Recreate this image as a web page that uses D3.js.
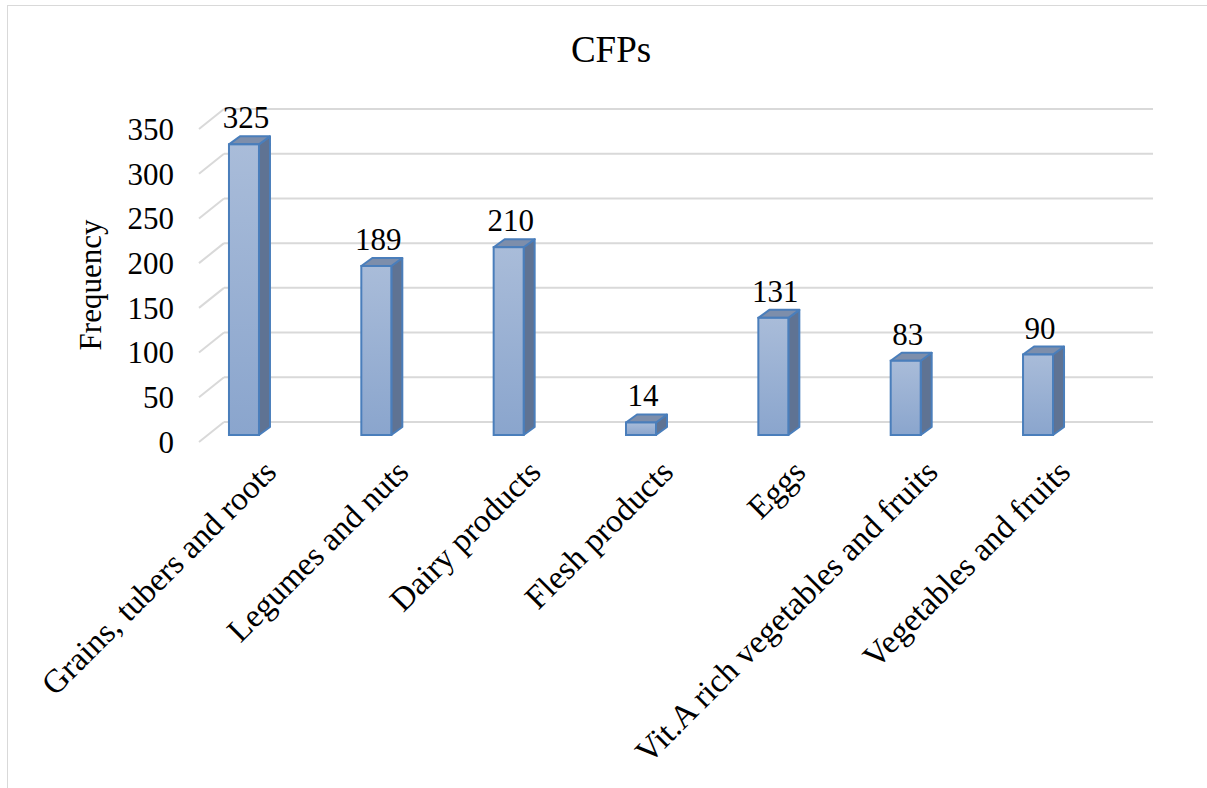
<!DOCTYPE html>
<html>
<head>
<meta charset="utf-8">
<script src="https://cdn.jsdelivr.net/npm/d3@7"></script>
<style>
  body { margin: 0; background: #fff; }
  text { font-family: "Liberation Serif", "Times New Roman", serif; fill: #000; }
</style>
</head>
<body>
<div id="chart"></div>
<script>
// Data
const categories = ["Grains, tubers and roots", "Legumes and nuts", "Dairy products",
  "Flesh products", "Eggs", "Vit.A rich vegetables and fruits", "Vegetables and fruits"];
const frequencies = [325, 189, 210, 14, 131, 83, 90];
const yTicks = [0, 50, 100, 150, 200, 250, 300, 350];

const width = 1207, height = 788;

// depth offsets of the 3D look
const depthX = 25, depthY = -20;     // floor front -> back wall
const barPlaneY = -7;                // bars stand a bit behind the front edge
const barW = 30, barDx = 11, barDy = -8;

const svg = d3.select("#chart").append("svg")
  .attr("width", width)
  .attr("height", height);

// chart border
svg.append("rect")
  .attr("x", 7.5).attr("y", 5.5)
  .attr("width", 1220).attr("height", 800)
  .attr("fill", "none")
  .attr("stroke", "#d9d9d9");

// Scales
const x = d3.scaleBand()
  .domain(categories)
  .range([177.8, 1104.2]);

const y = d3.scaleLinear()
  .domain([0, 350])
  .range([442, 129]);

const frontLeft = 199, backRight = 1153;

// gridlines (back wall + left diagonal)
const grid = svg.append("g");
yTicks.forEach(t => {
  grid.append("line")
    .attr("x1", frontLeft + depthX).attr("x2", backRight)
    .attr("y1", y(t) + depthY).attr("y2", y(t) + depthY)
    .attr("stroke", "#d9d9d9").attr("stroke-width", 2);
  grid.append("line")
    .attr("x1", frontLeft).attr("y1", y(t))
    .attr("x2", frontLeft + depthX).attr("y2", y(t) + depthY)
    .attr("stroke", "#d9d9d9").attr("stroke-width", 2);
});

// Y axis tick labels
svg.append("g").selectAll("text")
  .data(yTicks)
  .enter()
  .append("text")
  .attr("x", 174)
  .attr("y", d => y(d))
  .attr("dy", "0.35em")
  .attr("text-anchor", "end")
  .style("font-size", "31px")
  .text(d => d);

// Y axis title
svg.append("text")
  .attr("transform", "translate(101, 285) rotate(-90)")
  .attr("text-anchor", "middle")
  .style("font-size", "31px")
  .text("Frequency");

// Title
svg.append("text")
  .attr("x", 611)
  .attr("y", 62)
  .attr("text-anchor", "middle")
  .style("font-size", "37px")
  .text("CFPs");

// gradient for bar fronts
const defs = svg.append("defs");
const grad = defs.append("linearGradient")
  .attr("id", "barGrad")
  .attr("x1", 0).attr("y1", 0).attr("x2", 0).attr("y2", 1);
grad.append("stop").attr("offset", "0%").attr("stop-color", "#a9bcd9");
grad.append("stop").attr("offset", "100%").attr("stop-color", "#8aa5cd");

const cx = d => x(d) + x.bandwidth() / 2;
const bars = svg.append("g").selectAll("g")
  .data(categories.map((c, i) => ({ c, v: frequencies[i] })))
  .enter()
  .append("g");

// side face
bars.append("path")
  .attr("d", d => {
    const x0 = cx(d.c) + barW / 2, yb = y(0) + barPlaneY, yt = y(d.v) + barPlaneY;
    return `M${x0},${yb} L${x0},${yt} L${x0 + barDx},${yt + barDy} L${x0 + barDx},${yb + barDy} Z`;
  })
  .attr("fill", "#5f7393")
  .attr("stroke", "#4a7ebb").attr("stroke-width", 2)
  .attr("stroke-linejoin", "round");

// top face
bars.append("path")
  .attr("d", d => {
    const x0 = cx(d.c) - barW / 2, yt = y(d.v) + barPlaneY;
    return `M${x0},${yt} L${x0 + barW},${yt} L${x0 + barW + barDx},${yt + barDy} L${x0 + barDx},${yt + barDy} Z`;
  })
  .attr("fill", "#7d8eab")
  .attr("stroke", "#4a7ebb").attr("stroke-width", 2)
  .attr("stroke-linejoin", "round");

// front face
bars.append("rect")
  .attr("x", d => cx(d.c) - barW / 2)
  .attr("y", d => y(d.v) + barPlaneY)
  .attr("width", barW)
  .attr("height", d => y(0) - y(d.v))
  .attr("fill", "url(#barGrad)")
  .attr("stroke", "#4a7ebb").attr("stroke-width", 2);

// value labels
bars.append("text")
  .attr("x", d => cx(d.c) + 2)
  .attr("y", d => y(d.v) + barPlaneY - 16)
  .attr("text-anchor", "middle")
  .style("font-size", "31px")
  .text(d => d.v);

// category labels
svg.append("g").selectAll("text")
  .data(categories)
  .enter()
  .append("text")
  .attr("transform", d => `translate(${cx(d) + 34}, 474) rotate(-45)`)
  .attr("text-anchor", "end")
  .style("font-size", "33px")
  .text(d => d);
</script>
</body>
</html>
